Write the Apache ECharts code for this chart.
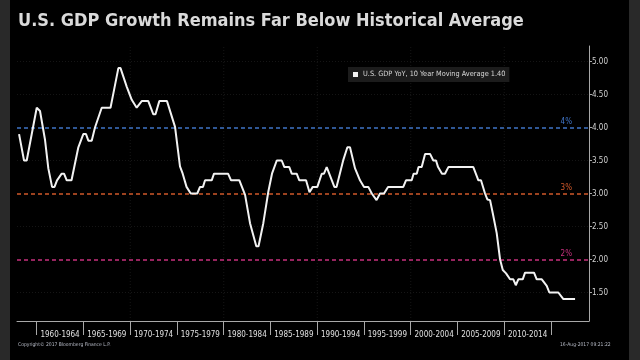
<!DOCTYPE html>
<html><head><meta charset="utf-8">
<script src="https://cdn.jsdelivr.net/npm/echarts@6/dist/echarts.min.js"></script>
<style>html,body{margin:0;padding:0;background:#000;}#c{width:640px;height:360px;}</style>
</head><body><div id="c"></div>
<script>
// ---- data ----
const years = [1958.11,1958.64,1958.93,1960.00,1960.35,1960.89,1961.24,1961.64,1961.90,1962.17,1962.31,1962.67,1962.92,1963.21,1963.72,1964.45,1964.98,1965.27,1965.52,1965.88,1966.23,1966.95,1967.89,1968.27,1968.73,1968.96,1969.62,1970.16,1970.35,1970.69,1971.23,1971.93,1972.47,1972.70,1973.11,1973.93,1974.79,1975.32,1975.61,1976.02,1976.47,1977.17,1977.46,1977.78,1978.00,1978.71,1978.96,1980.46,1980.78,1981.67,1982.28,1982.81,1983.48,1983.72,1984.23,1984.77,1985.16,1985.67,1986.20,1986.48,1987.01,1987.27,1987.80,1988.08,1988.80,1989.17,1989.52,1990.01,1990.48,1990.72,1991.01,1991.83,1992.06,1992.79,1993.22,1993.50,1994.04,1994.57,1995.00,1995.46,1995.83,1996.34,1996.71,1997.14,1997.57,1999.20,1999.49,2000.10,2000.30,2000.64,2000.83,2001.17,2001.53,2002.06,2002.41,2002.70,2002.92,2003.13,2003.34,2003.66,2004.02,2006.69,2007.23,2007.51,2007.94,2008.19,2008.48,2008.77,2009.19,2009.55,2009.84,2010.19,2010.62,2010.97,2011.23,2011.50,2011.97,2012.22,2013.18,2013.47,2014.01,2014.54,2014.82,2015.78,2016.32,2017.57];
const values = [3.90,3.50,3.50,4.30,4.25,3.81,3.38,3.10,3.10,3.20,3.20,3.30,3.30,3.20,3.20,3.70,3.90,3.90,3.80,3.80,4.00,4.30,4.30,4.57,4.90,4.90,4.62,4.42,4.40,4.30,4.40,4.40,4.20,4.20,4.40,4.40,4.01,3.41,3.30,3.10,3.00,3.00,3.10,3.10,3.20,3.20,3.30,3.30,3.20,3.20,2.98,2.55,2.20,2.20,2.55,3.03,3.30,3.50,3.50,3.40,3.40,3.30,3.30,3.20,3.20,3.02,3.10,3.10,3.30,3.30,3.40,3.10,3.10,3.51,3.70,3.70,3.38,3.20,3.10,3.10,3.00,2.90,3.00,3.00,3.10,3.10,3.20,3.20,3.30,3.30,3.40,3.40,3.60,3.60,3.50,3.50,3.40,3.40,3.30,3.30,3.40,3.40,3.20,3.20,3.00,2.91,2.90,2.70,2.40,2.00,1.84,1.79,1.70,1.70,1.61,1.70,1.70,1.80,1.80,1.70,1.70,1.60,1.50,1.50,1.40,1.40];
const periodLabels = ['1960-1964','1965-1969','1970-1974','1975-1979','1980-1984','1985-1989','1990-1994','1995-1999','2000-2004','2005-2009','2010-2014'];
const yTickValues = [1.5,2.0,2.5,3.0,3.5,4.0,4.5,5.0];
const refLevels = [4, 3, 2];
const refLabels = ['4%', '3%', '2%'];
const gridYears = [1970, 1980, 1990, 2000, 2010];
const gridLevels = [1.5, 2.5, 3.5, 4.5, 5.0];
const seriesName = 'U.S. GDP YoY, 10 Year Moving Average 1.40';
const titleText = 'U.S. GDP Growth Remains Far Below Historical Average';
const copyrightText = 'Copyright\u00a9 2017 Bloomberg Finance L.P.';
const stampText = '16-Aug-2017 09:21:22';

// ---- axis extents & styling ----
const X_MIN = 1957.89, X_MAX = 2019.06, Y_MIN = 1.0682, Y_MAX = 5.2348;
const FONT = '"DejaVu Sans Condensed", "DejaVu Sans", sans-serif';
const refColors = ['#3f74c6', '#d0582a', '#c8307e'];
const faint = '#161616';

const chart = echarts.init(document.getElementById('c'), null, {renderer: 'canvas'});

const baseLine = {type: 'line', xAxisIndex: 0, yAxisIndex: 0, silent: true, animation: false,
                  symbol: 'none', showSymbol: false, emphasis: {disabled: true}};

const gridSeries = gridLevels.map(v => Object.assign({}, baseLine, {
  data: [[X_MIN, v], [X_MAX, v]], z: 1,
  lineStyle: {color: faint, type: [1, 2], width: 1}
})).concat(gridYears.map(v => Object.assign({}, baseLine, {
  data: [[v, Y_MIN], [v, Y_MAX]], z: 1,
  lineStyle: {color: faint, type: [1, 2], width: 1}
})));

const refSeries = refLevels.map((v, i) => ({
  type: 'line', xAxisIndex: 0, yAxisIndex: 0, data: [], silent: true, z: 3,
  color: refColors[i],
  markLine: {
    silent: true, symbol: ['none', 'none'], animation: false,
    lineStyle: {color: refColors[i], type: [4, 3], width: 1.5},
    label: {show: true, position: 'insideEndTop', formatter: refLabels[i], color: refColors[i],
            fontSize: 8, fontFamily: FONT, distance: [17, 2]},
    emphasis: {disabled: true},
    data: [{yAxis: v}]
  }
}));

chart.setOption({
  backgroundColor: '#000',
  animation: false,
  title: [
    {text: titleText, left: 18, top: 12, padding: 0,
     textStyle: {color: '#dadada', fontSize: 18, fontWeight: 'bold', fontFamily: FONT}},
    {text: copyrightText, left: 18, top: 342, padding: 0,
     textStyle: {color: '#b8bcc8', fontSize: 5, fontWeight: 'normal', fontFamily: FONT}},
    {text: stampText, left: 560, top: 342, padding: 0,
     textStyle: {color: '#b8bcc8', fontSize: 5, fontWeight: 'normal', fontFamily: FONT}}
  ],
  legend: {
    left: 348, top: 67, padding: [4, 4, 4, 5], z: 20,
    backgroundColor: '#1c1c1c',
    itemWidth: 5, itemHeight: 5, icon: 'rect',
    textStyle: {color: '#d8d8d8', fontSize: 7.3, fontFamily: FONT},
    data: [seriesName]
  },
  graphic: [
    {type: 'rect', left: 0, top: 0, shape: {width: 10, height: 360}, style: {fill: '#292929'}, silent: true},
    {type: 'rect', left: 629, top: 0, shape: {width: 11, height: 360}, style: {fill: '#292929'}, silent: true}
  ],
  grid: [
    {left: 17, right: 51, top: 46, bottom: 39},
    {left: 36.7, right: 89, top: 46, bottom: 39}
  ],
  xAxis: [
    {type: 'value', gridIndex: 0, min: X_MIN, max: X_MAX,
     axisLine: {show: true, lineStyle: {color: '#a8a8a8', width: 1}},
     axisTick: {show: false}, axisLabel: {show: false}, splitLine: {show: false}},
    {type: 'category', gridIndex: 1, data: periodLabels, boundaryGap: true,
     axisLine: {show: false},
     axisTick: {show: true, interval: 0, length: 14, lineStyle: {color: '#a8a8a8'}},
     axisLabel: {interval: 0, color: '#e0e0e0', fontSize: 8, fontFamily: FONT, margin: 10},
     splitLine: {show: false}}
  ],
  yAxis: [
    {type: 'value', gridIndex: 0, position: 'right', min: Y_MIN, max: Y_MAX,
     axisLine: {show: true, lineStyle: {color: '#a8a8a8', width: 1}},
     axisTick: {show: true, length: 3, customValues: yTickValues, lineStyle: {color: '#a8a8a8'}},
     axisLabel: {customValues: yTickValues, color: '#d2d2d2', fontSize: 8, fontFamily: FONT, margin: 3,
                 formatter: v => Number(v).toFixed(2)},
     splitLine: {show: false}},
    {type: 'value', gridIndex: 1, show: false, min: 0, max: 1}
  ],
  series: gridSeries.concat(refSeries).concat([{
    name: seriesName, type: 'line', xAxisIndex: 0, yAxisIndex: 0,
    data: years.map((y, i) => [y, values[i]]),
    showSymbol: false, symbol: 'none',
    lineStyle: {color: '#f2f2f2', width: 2},
    itemStyle: {color: '#f2f2f2'},
    z: 5
  }])
});
</script>
</body></html>
